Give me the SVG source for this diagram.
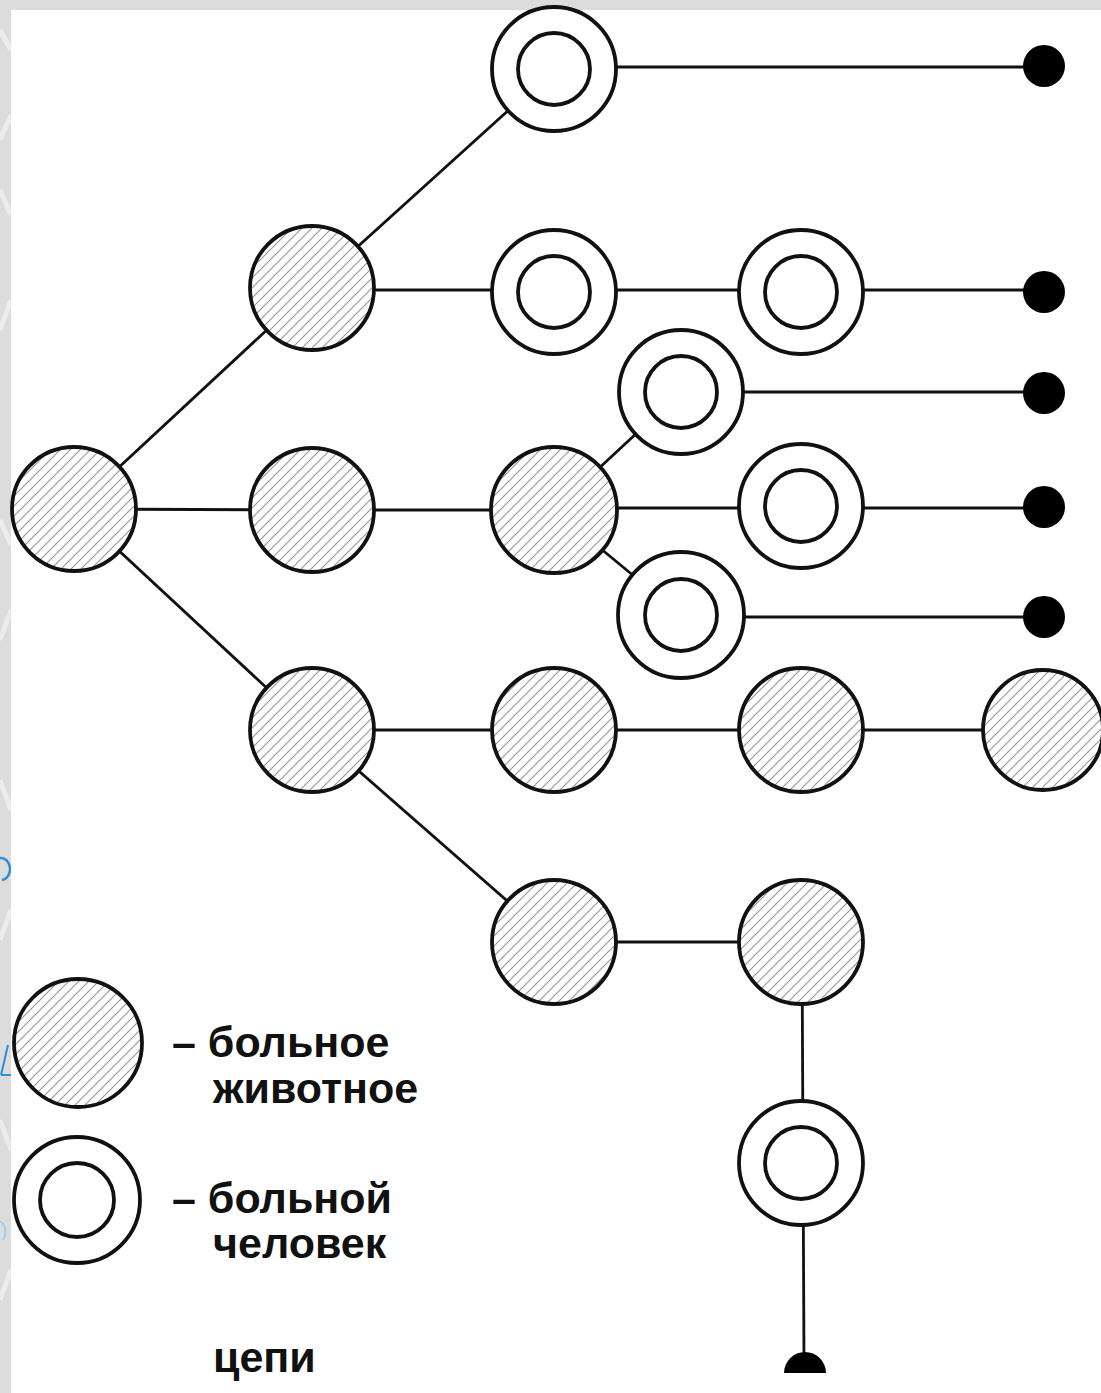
<svg xmlns="http://www.w3.org/2000/svg" width="1101" height="1393" viewBox="0 0 1101 1393">
<style>
.edge{stroke:#111;stroke-width:2.8;fill:none}
.animal{fill:url(#hatch);stroke:#111;stroke-width:3.8}
.ring{fill:#fff;stroke:#111;stroke-width:3.8}
.dot{fill:#000}
.lbl{font-family:"Liberation Sans",Arial,sans-serif;font-size:43px;font-weight:bold;fill:#111}
.deco{stroke:#ececec;stroke-width:5;fill:none}
</style>
<defs>
<pattern id="hatch" patternUnits="userSpaceOnUse" width="10" height="10">
<rect width="10" height="10" fill="#fff"/>
<path d="M-2,2 L2,-2 M0,10 L10,0 M8,12 L12,8" stroke="#9a9a9a" stroke-width="1.2"/>
</pattern>
</defs>
<rect width="1101" height="1393" fill="#dcdcdc"/>
<path class="deco" d="M0,30 L11,50 M0,140 L11,115 M0,190 L11,215 M0,330 L11,300 M0,520 L11,545 M0,640 L11,610 M0,780 L11,810 M0,940 L11,910 M0,1120 L11,1150 M0,1300 L11,1270"/>
<path d="M0,858 A9,11 0 0 1 2,880" stroke="#2a8fd8" stroke-width="2.5" fill="none"/>
<path d="M1,1075 L8,1045 M1,1075 L11,1075" stroke="#2a8fd8" stroke-width="2" fill="none"/>
<path d="M0,1222 A6,10 0 0 1 3,1240" stroke="#9fd0f0" stroke-width="2" fill="none"/>
<rect x="11" y="10" width="1090" height="1383" fill="#fff"/>

<g id="connectors">
<line class="edge" x1="74" y1="509" x2="312" y2="288"/>
<line class="edge" x1="74" y1="509" x2="312" y2="510"/>
<line class="edge" x1="74" y1="509" x2="312" y2="730"/>
<line class="edge" x1="312" y1="288" x2="554" y2="69"/>
<line class="edge" x1="554" y1="67" x2="1044" y2="67"/>
<line class="edge" x1="312" y1="290" x2="1044" y2="290"/>
<line class="edge" x1="312" y1="510" x2="554" y2="510"/>
<line class="edge" x1="554" y1="510" x2="681" y2="392"/>
<line class="edge" x1="554" y1="508" x2="1044" y2="508"/>
<line class="edge" x1="554" y1="510" x2="681" y2="615"/>
<line class="edge" x1="681" y1="392" x2="1044" y2="392"/>
<line class="edge" x1="681" y1="617" x2="1044" y2="617"/>
<line class="edge" x1="312" y1="730" x2="1043" y2="730"/>
<line class="edge" x1="312" y1="730" x2="554" y2="942"/>
<line class="edge" x1="554" y1="942" x2="802" y2="942"/>
<line class="edge" x1="802" y1="942" x2="804" y2="1360"/>
</g>

<g id="n-a"><circle class="animal" cx="74" cy="509" r="62"/></g>
<g id="n-b"><circle class="animal" cx="312" cy="288" r="62"/></g>
<g id="n-c"><circle class="animal" cx="312" cy="510" r="62"/></g>
<g id="n-d"><circle class="animal" cx="554" cy="510" r="63"/></g>
<g id="n-e"><circle class="animal" cx="312" cy="730" r="62"/></g>
<g id="n-f"><circle class="animal" cx="554" cy="730" r="62"/></g>
<g id="n-g"><circle class="animal" cx="801" cy="730" r="62"/></g>
<g id="n-h"><circle class="animal" cx="1043" cy="730" r="60"/></g>
<g id="n-i"><circle class="animal" cx="554" cy="942" r="62"/></g>
<g id="n-j"><circle class="animal" cx="801" cy="942" r="62"/></g>

<g id="n-k"><circle class="ring" cx="554" cy="69" r="62"/><circle class="ring" cx="554" cy="69" r="36"/></g>
<g id="n-l"><circle class="ring" cx="554" cy="292" r="62"/><circle class="ring" cx="554" cy="292" r="36"/></g>
<g id="n-m"><circle class="ring" cx="801" cy="292" r="62"/><circle class="ring" cx="801" cy="292" r="36"/></g>
<g id="n-n"><circle class="ring" cx="681" cy="392" r="62"/><circle class="ring" cx="681" cy="392" r="36"/></g>
<g id="n-o"><circle class="ring" cx="801" cy="506" r="62"/><circle class="ring" cx="801" cy="506" r="36"/></g>
<g id="n-p"><circle class="ring" cx="681" cy="615" r="63"/><circle class="ring" cx="681" cy="615" r="36"/></g>
<g id="n-q"><circle class="ring" cx="801" cy="1163" r="62"/><circle class="ring" cx="801" cy="1163" r="36"/></g>

<g id="end-1"><circle class="dot" cx="1044" cy="66" r="21"/></g>
<g id="end-2"><circle class="dot" cx="1044" cy="292" r="21"/></g>
<g id="end-3"><circle class="dot" cx="1044" cy="393" r="21"/></g>
<g id="end-4"><circle class="dot" cx="1044" cy="507" r="21"/></g>
<g id="end-5"><circle class="dot" cx="1044" cy="617" r="21"/></g>
<g id="end-6"><path class="dot" d="M784,1373 A21,21 0 0 1 826,1373 Z"/></g>

<g id="legend-animal">
<circle class="animal" cx="78" cy="1043" r="64"/>
<text class="lbl" x="172" y="1057">– больное</text>
<text class="lbl" x="213" y="1103">животное</text>
</g>
<g id="legend-human">
<circle class="ring" cx="77" cy="1200" r="63"/><circle class="ring" cx="77" cy="1200" r="37"/>
<text class="lbl" x="172" y="1213">– больной</text>
<text class="lbl" x="213" y="1258">человек</text>
</g>
<g id="legend-chain">
<text class="lbl" x="213" y="1372">цепи</text>
</g>
</svg>
